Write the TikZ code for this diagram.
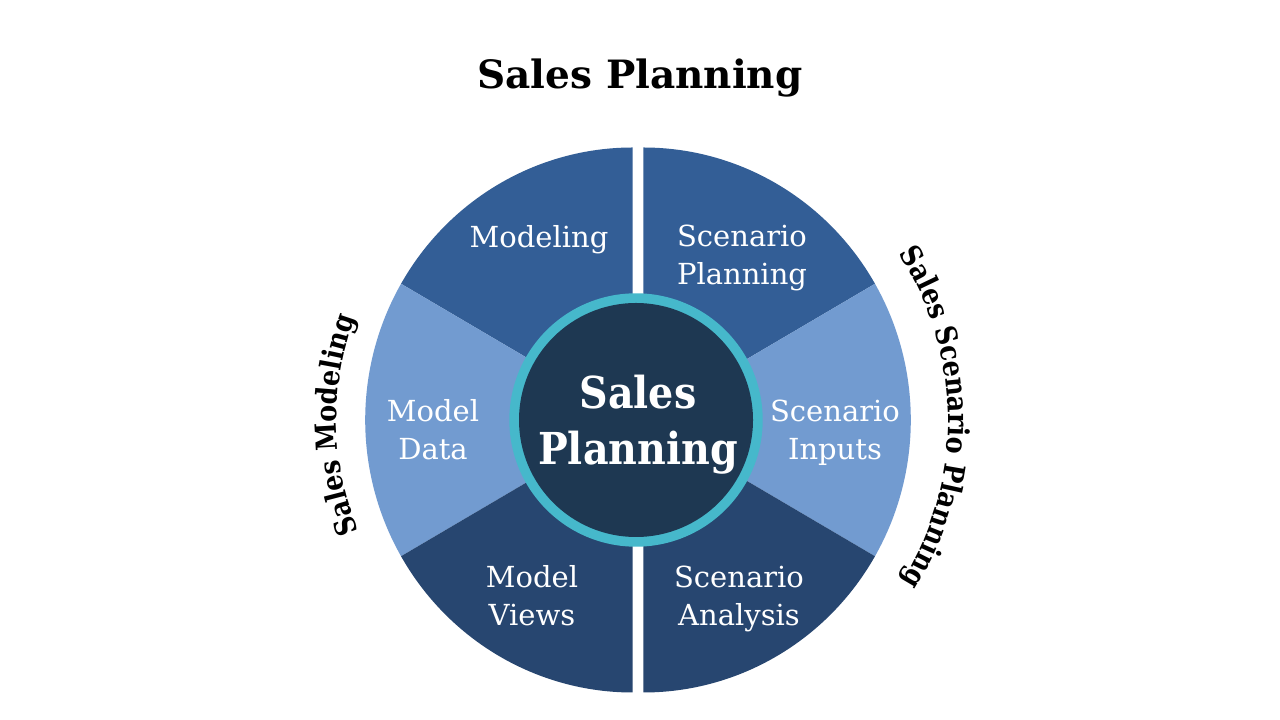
\documentclass[tikz,border=0pt]{standalone}
\usepackage{fontspec}
\setmainfont{DejaVu Serif}
\newfontfamily\narrowserif[FakeStretch=0.88]{DejaVu Serif}
\newfontfamily\coreserif[FakeStretch=0.9]{DejaVu Serif}
\usetikzlibrary{decorations.text}
\definecolor{ctop}{HTML}{335E96}
\definecolor{cmid}{HTML}{729BD0}
\definecolor{cbot}{HTML}{274670}
\definecolor{ccore}{HTML}{1E3852}
\definecolor{cring}{HTML}{46B8CB}
\newcommand{\curvefont}{\narrowserif\fontsize{21.75pt}{26pt}\selectfont\bfseries}
\begin{document}
\begin{tikzpicture}[x=0.75pt,y=0.75pt,
  sectortext/.style={text=white,inner sep=0pt,anchor=base,font=\fontsize{21.75pt}{28.5pt}\selectfont},
  coretext/.style={text=white,inner sep=0pt,anchor=base,font=\coreserif\fontsize{33pt}{42pt}\selectfont\bfseries},
  titletext/.style={text=black,inner sep=0pt,anchor=base,font=\fontsize{29.25pt}{36pt}\selectfont\bfseries},
  ell/.style={x radius=267.5,y radius=272.5}]
\useasboundingbox[fill=white] (0,0) rectangle (1280,720);
\coordinate (L) at (632.7,300);
\coordinate (R) at (643.3,300);
\coordinate (C) at (636,300);
% left half
\fill[ctop] (L) -- ([shift={(L)}]90:267.5 and 272.5) arc[ell,start angle=90,end angle=150] -- cycle;
\fill[cmid] (L) -- ([shift={(L)}]150:267.5 and 272.5) arc[ell,start angle=150,end angle=210] -- cycle;
\fill[cbot] (L) -- ([shift={(L)}]210:267.5 and 272.5) arc[ell,start angle=210,end angle=270] -- cycle;
% right half
\fill[ctop] (R) -- ([shift={(R)}]30:267.5 and 272.5) arc[ell,start angle=30,end angle=90] -- cycle;
\fill[cmid] (R) -- ([shift={(R)}]-30:267.5 and 272.5) arc[ell,start angle=-30,end angle=30] -- cycle;
\fill[cbot] (R) -- ([shift={(R)}]-90:267.5 and 272.5) arc[ell,start angle=-90,end angle=-30] -- cycle;
% core
\fill[cring] (C) circle[radius=126.7];
\fill[ccore] (C) circle[radius=117];
% texts
\node[titletext] (title) at (640,631) {Sales Planning};
\node[sectortext] (t1) at (539,472) {Modeling};
\node[sectortext] (t2) at (742,473.3) {\begin{tabular}[t]{@{}c@{}}Scenario\\Planning\end{tabular}};
\node[sectortext] (t3) at (433,298.3) {\begin{tabular}[t]{@{}c@{}}Model\\Data\end{tabular}};
\node[sectortext] (t4) at (835,298) {\begin{tabular}[t]{@{}c@{}}Scenario\\Inputs\end{tabular}};
\node[sectortext] (t5) at (532,132) {\begin{tabular}[t]{@{}c@{}}Model\\Views\end{tabular}};
\node[sectortext] (t6) at (739,132) {\begin{tabular}[t]{@{}c@{}}Scenario\\Analysis\end{tabular}};
\node[coretext] (core) at (638,311) {\begin{tabular}[t]{@{}c@{}}Sales\\Planning\end{tabular}};
% curved labels
\path[decorate,decoration={text along path,text align=center,text={|\curvefont|Sales Modeling}}]
  ([shift={(L)}]206:296) arc[start angle=206,end angle=156,radius=296];
\path[decorate,decoration={text along path,text align=center,text={|\curvefont|Sales Scenario Planning}}]
  ([shift={(R)}]42.5:305) arc[start angle=42.5,end angle=-41.5,radius=305];
\end{tikzpicture}
\end{document}
